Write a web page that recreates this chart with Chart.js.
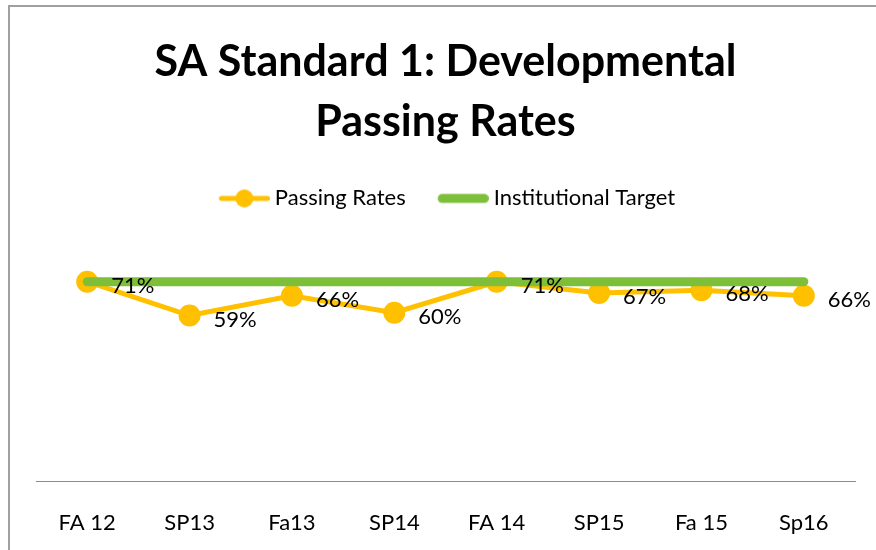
<!DOCTYPE html>
<html>
<head>
<meta charset="utf-8">
<script src="https://cdn.jsdelivr.net/npm/chart.js@4.4.0/dist/chart.umd.min.js"></script>
<style>
  body { margin: 0; background: #fff; }
  #wrap { width: 876px; height: 550px; position: relative; }
</style>
</head>
<body>
<div id="wrap"><canvas id="passChart" width="876" height="550"></canvas></div>
<script>
const categories = ['FA 12', 'SP13', 'Fa13', 'SP14', 'FA 14', 'SP15', 'Fa 15', 'Sp16'];
const passingRates = [71, 59, 66, 60, 71, 67, 68, 66];
const institutionalTarget = [71, 71, 71, 71, 71, 71, 71, 71];

const orange = '#FFC000';
const green = '#7DBF38';

// legend swatches: line with dot, and thick rounded line
// canvas is wider than the box so the line sits a bit to the right, closer to the text
function makeSwatch(color, lineW, dotR) {
    const c = document.createElement('canvas');
    c.width = 60; c.height = 24;
    const g = c.getContext('2d');
    g.strokeStyle = color;
    g.lineWidth = lineW;
    g.lineCap = 'round';
    g.beginPath();
    g.moveTo(9 + lineW / 2, 12);
    g.lineTo(60 - lineW / 2, 12);
    g.stroke();
    if (dotR) {
        g.fillStyle = color;
        g.beginPath();
        g.arc(34.5, 12, dotR, 0, Math.PI * 2);
        g.fill();
    }
    return c;
}
const swatches = [makeSwatch(orange, 5, 9), makeSwatch(green, 9, 0)];

const framePlugin = {
    id: 'frame',
    beforeDraw(chart) {
        const c = chart.ctx;
        c.save();
        c.strokeStyle = '#a0a0a0';
        c.lineWidth = 2;
        c.strokeRect(9, 6, 900, 600);
        c.restore();
    }
};

// extra room between legend and plot
const legendGap = {
    id: 'legendGap',
    beforeInit(chart) {
        const fit = chart.legend.fit;
        chart.legend.fit = function() {
            fit.bind(chart.legend)();
            this.height += 37;
        };
    }
};

const valueLabels = {
    id: 'valueLabels',
    afterDatasetsDraw(chart) {
        const c = chart.ctx;
        const meta = chart.getDatasetMeta(0);
        c.save();
        c.font = '22px Lato';
        c.fillStyle = '#000';
        c.textAlign = 'left';
        c.textBaseline = 'middle';
        meta.data.forEach((pt, i) => {
            c.fillText(passingRates[i] + '%', pt.x + 24, pt.y + 4);
        });
        c.restore();
    }
};

document.addEventListener('DOMContentLoaded', function() {
    const ctx = document.getElementById('passChart').getContext('2d');
    new Chart(ctx, {
        type: 'line',
        data: {
            labels: categories,
            datasets: [
                {
                    label: 'Passing Rates',
                    data: passingRates,
                    borderColor: orange,
                    backgroundColor: orange,
                    borderWidth: 5,
                    pointRadius: 11,
                    pointHoverRadius: 11,
                    pointBorderWidth: 0,
                    fill: false,
                    order: 1
                },
                {
                    label: 'Institutional Target',
                    data: institutionalTarget,
                    borderColor: green,
                    backgroundColor: green,
                    borderWidth: 9,
                    borderCapStyle: 'round',
                    pointRadius: 0,
                    fill: false,
                    order: 0
                }
            ]
        },
        options: {
            responsive: false,
            animation: false,
            layout: { padding: { left: 36, right: 21, top: 0, bottom: -14 } },
            scales: {
                x: {
                    offset: true,
                    grid: { display: false, drawTicks: false },
                    border: { display: true, color: '#8c8c8c', width: 1 },
                    ticks: { color: '#000', font: { family: 'Lato', size: 22 }, padding: 28 }
                },
                y: {
                    display: false,
                    min: 0,
                    max: 80
                }
            },
            plugins: {
                title: {
                    display: true,
                    text: ['SA Standard 1: Developmental', 'Passing Rates'],
                    color: '#000',
                    font: { family: 'Lato', size: 43, weight: 'bold', lineHeight: 1.4 },
                    padding: { top: 32, bottom: 6 }
                },
                legend: {
                    display: true,
                    position: 'top',
                    labels: {
                        color: '#000',
                        font: { family: 'Lato', size: 22 },
                        usePointStyle: true,
                        pointStyleWidth: 48,
                        boxHeight: 22,
                        padding: 29,
                        sort: (a, b) => a.datasetIndex - b.datasetIndex,
                        generateLabels: (chart) => {
                            const items = Chart.defaults.plugins.legend.labels.generateLabels(chart);
                            items.forEach((it) => { it.pointStyle = swatches[it.datasetIndex]; });
                            return items;
                        }
                    }
                },
                tooltip: { enabled: false }
            }
        },
        plugins: [framePlugin, legendGap, valueLabels]
    });
});
</script>
</body>
</html>
